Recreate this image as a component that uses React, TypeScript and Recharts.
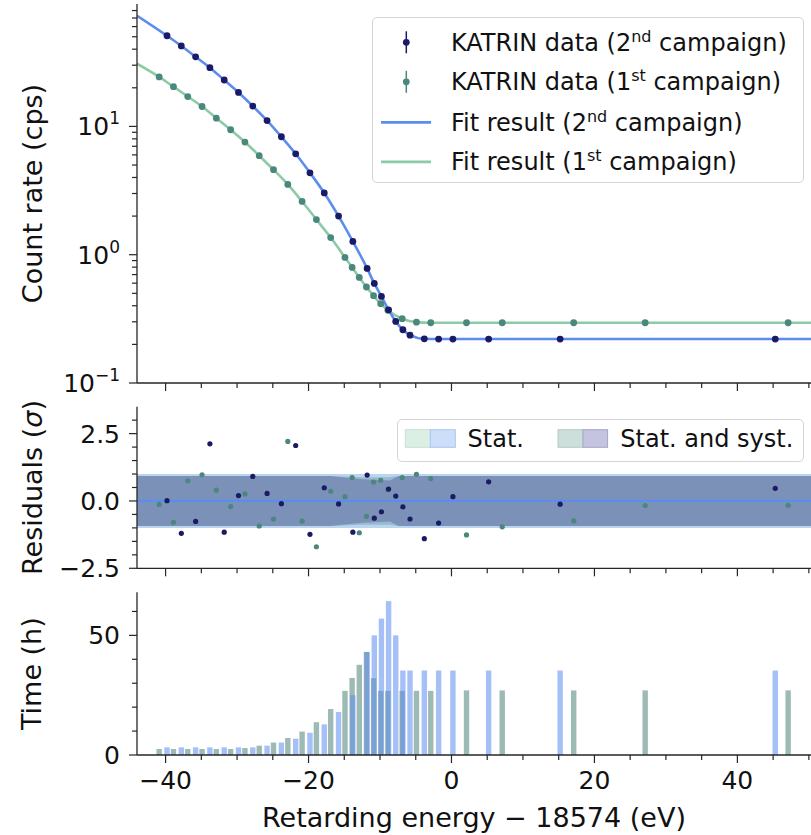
import React from 'react';
import {
  ComposedChart,
  Line,
  Scatter,
  Area,
  Bar,
  XAxis,
  YAxis,
  ReferenceLine,
} from 'recharts';

const FONT = '"DejaVu Sans", sans-serif';
const INK = '#262626';

// 2nd campaign
const e2 = [-39.8, -37.8, -35.8, -33.8, -31.8, -29.8, -27.8, -25.8, -23.8, -21.8, -19.8, -17.8, -15.8, -13.8, -11.8, -10.8, -9.8, -8.8, -7.8, -6.8, -5.8, -3.8, -1.8, 0.2, 5.2, 15.2, 45.3];
const rate2 = [50.9, 42.4, 34.9, 28.7, 23.0, 18.4, 14.4, 11.1, 8.31, 6.12, 4.35, 3.03, 2.0, 1.27, 0.782, 0.597, 0.473, 0.372, 0.302, 0.26, 0.236, 0.221, 0.22, 0.22, 0.22, 0.22, 0.22];
const resid2 = [0.01, -1.2, -0.76, 2.12, -1.16, 0.2, 0.91, 0.28, -0.1, 2.06, -1.24, 0.49, -0.11, -1.16, 0.96, -0.64, -0.4, 0.44, 0.18, -0.22, -0.67, -1.4, -0.82, 0.16, 0.71, -0.12, 0.47];
const time2 = [3.2, 3.2, 3.2, 3.2, 3.2, 3.2, 3.2, 3.9, 5.2, 6.8, 9.3, 12.8, 18, 25, 43, 50, 57, 64.3, 50, 35.3, 35.3, 35.3, 35.3, 35.3, 35.3, 35.3, 35.3];

// 1st campaign
const e1 = [-40.9, -38.9, -36.9, -34.9, -32.9, -30.9, -28.9, -26.9, -24.9, -22.9, -20.9, -18.9, -16.9, -14.9, -13.9, -12.9, -11.9, -10.9, -9.9, -8.9, -6.9, -4.9, -2.9, 2.1, 7.1, 17.1, 27.1, 47.1];
const rate1 = [24.3, 20.4, 17.1, 14.3, 11.6, 9.42, 7.55, 5.91, 4.6, 3.53, 2.6, 1.88, 1.36, 0.953, 0.796, 0.665, 0.56, 0.479, 0.415, 0.369, 0.317, 0.298, 0.295, 0.295, 0.295, 0.295, 0.295, 0.295];
const resid1 = [-0.13, -0.79, 0.75, 0.97, 0.4, -0.21, 0.26, -0.93, -0.67, 2.21, -0.75, -1.7, 0.36, 0.16, 0.87, -1.18, -0.57, 0.7, 0.77, 0.42, 0.87, 0.99, 0.83, -1.26, -0.96, -0.74, -0.17, -0.16];
const time1 = [2.5, 2.5, 2.5, 2.5, 2.5, 2.5, 2.9, 3.9, 5.2, 7.1, 9.8, 13.7, 19.2, 26.8, 32.2, 37.7, 43.1, 32.1, 26.8, 26.8, 26.8, 26.8, 26.8, 27, 27, 27, 27, 27];

// fit curve values at the plot edges
const edgeE = [-44, 50.3];
const fit2Edge = [73, 0.22];
const fit1Edge = [30.8, 0.295];

// residual bands (half widths in sigma)
const bandE = [-44, -17, -12.5, -8.6, -7.4, 50.3];
const statHalf = [1, 1, 1, 1, 1, 1];
const syst1Half = [0.93, 0.93, 0.88, 0.88, 0.93, 0.93];
const syst2Half = [0.93, 0.93, 0.81, 0.76, 0.93, 0.93];

// axes
const X_DOMAIN = [-44, 50.3];
const xTicks = [-40, -35, -30, -25, -20, -15, -10, -5, 0, 5, 10, 15, 20, 25, 30, 35, 40, 45, 50];
const logTicks = [0.1, 0.2, 0.3, 0.4, 0.5, 0.6, 0.7, 0.8, 0.9, 1, 2, 3, 4, 5, 6, 7, 8, 9, 10, 20, 30, 40, 50, 60, 70, 80];
const residTicks = [-2.5, -2, -1.5, -1, -0.5, 0, 0.5, 1, 1.5, 2, 2.5, 3];
const timeTicks = [0, 10, 20, 30, 40, 50, 60];

const C2_DOT = '#1a1a66';
const C1_DOT = '#4a877d';
const C2_LINE = '#5b8def';
const C1_LINE = '#8dcaa6';

const rateData2 = e2.map((e, i) => ({ e, v: rate2[i] }));
const rateData1 = e1.map((e, i) => ({ e, v: rate1[i] }));
const fitData2 = [{ e: edgeE[0], v: fit2Edge[0] }, ...rateData2, { e: edgeE[1], v: fit2Edge[1] }];
const fitData1 = [{ e: edgeE[0], v: fit1Edge[0] }, ...rateData1, { e: edgeE[1], v: fit1Edge[1] }];
const residData2 = e2.map((e, i) => ({ e, r: resid2[i] }));
const residData1 = e1.map((e, i) => ({ e, r: resid1[i] }));
const bandRows = bandE.map((e, i) => ({
  e,
  s: [-statHalf[i], statHalf[i]],
  g: [-syst1Half[i], syst1Half[i]],
  p: [-syst2Half[i], syst2Half[i]],
}));
const timeRows = [
  ...e1.map((e, i) => ({ e, t1: time1[i] })),
  ...e2.map((e, i) => ({ e, t2: time2[i] })),
].sort((a, b) => a.e - b.e);

const minus = (s: string) => s.replace('-', '\u2212');

const XTick = (p: any) => {
  const v = p.payload.value;
  const major = v % 20 === 0;
  return (
    <g>
      <line x1={p.x} x2={p.x} y1={p.y} y2={p.y + (major ? 8 : 5)} stroke={INK} strokeWidth={1.2} />
      {p.showLabel && major && (
        <text x={p.x} y={p.y + 34} textAnchor="middle" fontSize={25} fontFamily={FONT} fill="#111">
          {minus(String(v))}
        </text>
      )}
    </g>
  );
};

const YTick = (p: any) => {
  const v = p.payload.value;
  const major = p.isMajor(v);
  return (
    <g>
      <line x1={p.x - (major ? 8 : 5)} x2={p.x} y1={p.y} y2={p.y} stroke={INK} strokeWidth={1.2} />
      {major && (
        <text x={p.x - 17} y={p.y + 9} textAnchor="end" fontSize={25} fontFamily={FONT} fill="#111">
          {p.fmt(v)}
        </text>
      )}
    </g>
  );
};

const isDecade = (v: number) => Math.abs(Math.log10(v) - Math.round(Math.log10(v))) < 1e-6;
const fmtDecade = (v: number) => (
  <>
    <tspan>10</tspan>
    <tspan dy={-11} fontSize={17}>{minus(String(Math.round(Math.log10(v))))}</tspan>
  </>
);

const yTitle = (content: React.ReactNode) => (props: any) => {
  const vb = props.viewBox || {};
  const cy = (vb.y ?? 0) + (vb.height ?? 0) / 2;
  return (
    <text
      x={41.5}
      y={cy}
      transform={`rotate(-90, 41.5, ${cy})`}
      textAnchor="middle"
      fontSize={27}
      fontFamily={FONT}
      fill="#111"
    >
      {content}
    </text>
  );
};

const xTitle = (props: any) => {
  const vb = props.viewBox || {};
  const cx = (vb.x ?? 0) + (vb.width ?? 0) / 2;
  return (
    <text x={cx} y={(vb.y ?? 0) + 72} textAnchor="middle" fontSize={27} fontFamily={FONT} fill="#111">
      Retarding energy {'\u2212'} 18574 (eV)
    </text>
  );
};

const dot = (r: number, fill: string) => (p: any) => <circle cx={p.cx} cy={p.cy} r={r} fill={fill} />;

// bar centred on its energy with a fixed width, whatever band size the axis gives
const barShape = (fill: string, opacity: number) => (p: any) => {
  if (!p.height || p.height <= 0) return <g />;
  const cx = p.x + p.width / 2;
  return <rect x={cx - 2.7} y={p.y} width={5.4} height={p.height} fill={fill} fillOpacity={opacity} />;
};

const axisLine = { stroke: INK, strokeWidth: 1.3 };

const sup = (base: string, s: string, tail: string) => (
  <>
    {base}
    <tspan dy={-9} fontSize={16}>{s}</tspan>
    <tspan dy={9}>{tail}</tspan>
  </>
);

const TopLegend = () => {
  const rows = [38, 77.5, 118, 157.5].map((y) => y - 16.7);
  return (
    <div
      style={{
        position: 'absolute',
        left: 371.7,
        top: 16.7,
        width: 432.6,
        height: 166.6,
        boxSizing: 'border-box',
        border: '1px solid #d4d4d4',
        borderRadius: 5,
        background: 'rgba(255,255,255,0.85)',
      }}
    >
      <svg width={432} height={166} style={{ position: 'absolute', left: -1, top: -1 }}>
        <line x1={34.3} x2={34.3} y1={rows[0] + 4 - 11} y2={rows[0] + 4 + 11} stroke={C2_DOT} strokeWidth={1.5} />
        <circle cx={34.3} cy={rows[0] + 4} r={3.4} fill={C2_DOT} />
        <line x1={34.3} x2={34.3} y1={rows[1] + 4 - 11} y2={rows[1] + 4 + 11} stroke={C1_DOT} strokeWidth={1.5} />
        <circle cx={34.3} cy={rows[1] + 4} r={3.4} fill={C1_DOT} />
        <line x1={9} x2={59} y1={rows[2] + 4} y2={rows[2] + 4} stroke={C2_LINE} strokeWidth={2.8} />
        <line x1={9} x2={59} y1={rows[3] + 4} y2={rows[3] + 4} stroke={C1_LINE} strokeWidth={2.8} />
        <g fontSize={24} fontFamily={FONT} fill="#111">
          <text x={79} y={rows[0] + 12.5}>{sup('KATRIN data (2', 'nd', ' campaign)')}</text>
          <text x={79} y={rows[1] + 12.5}>{sup('KATRIN data (1', 'st', ' campaign)')}</text>
          <text x={79} y={rows[2] + 12.5}>{sup('Fit result (2', 'nd', ' campaign)')}</text>
          <text x={79} y={rows[3] + 12.5}>{sup('Fit result (1', 'st', ' campaign)')}</text>
        </g>
      </svg>
    </div>
  );
};

const MidLegend = () => (
  <div
    style={{
      position: 'absolute',
      left: 396.7,
      top: 419.3,
      width: 407.6,
      height: 42.7,
      boxSizing: 'border-box',
      border: '1px solid #d4d4d4',
      borderRadius: 5,
      background: 'rgba(255,255,255,0.85)',
    }}
  >
    <svg width={407} height={42} style={{ position: 'absolute', left: -1, top: -1 }}>
      <rect x={8.3} y={10.7} width={25} height={17.6} fill="#dcefe5" stroke="#c5e2d4" />
      <rect x={33.3} y={10.7} width={25} height={17.6} fill="#cddff8" stroke="#a9c6f2" />
      <rect x={161} y={10.7} width={25} height={17.6} fill="#cddfdb" stroke="#b3ccc7" />
      <rect x={186} y={10.7} width={24.6} height={17.6} fill="#c4c4de" stroke="#a3a3cb" />
      <g fontSize={24} fontFamily={FONT} fill="#111">
        <text x={70.6} y={28.3}>Stat.</text>
        <text x={223.3} y={28.3}>Stat. and syst.</text>
      </g>
    </svg>
  </div>
);

export default function App() {
  return (
    <div style={{ position: 'absolute', left: 0, top: 0, width: 811, height: 835, background: '#fff', overflow: 'hidden' }}>
      {/* spectrum */}
      <div style={{ position: 'absolute', left: 0, top: 0 }}>
        <ComposedChart width={811} height={400} margin={{ top: 4, right: 0, bottom: 0, left: 0 }}>
          <XAxis
            dataKey="e"
            type="number"
            domain={X_DOMAIN}
            allowDataOverflow
            ticks={xTicks}
            interval={0}
            height={17}
            tickSize={0}
            tickMargin={0}
            tickLine={false}
            axisLine={axisLine}
            tick={(p: any) => <XTick {...p} showLabel={false} />}
          />
          <XAxis xAxisId="top" orientation="top" type="number" domain={X_DOMAIN} height={0} tick={false} tickLine={false} axisLine={axisLine} />
          <YAxis
            type="number"
            scale="log"
            domain={[0.1, 90]}
            allowDataOverflow
            ticks={logTicks}
            interval={0}
            width={137}
            tickSize={0}
            tickMargin={0}
            tickLine={false}
            axisLine={axisLine}
            tick={(p: any) => <YTick {...p} isMajor={isDecade} fmt={fmtDecade} />}
            label={{ content: yTitle('Count rate (cps)') }}
          />
          <Line data={fitData1} dataKey="v" type="monotone" stroke={C1_LINE} strokeWidth={2.6} dot={false} activeDot={false} isAnimationActive={false} />
          <Line data={fitData2} dataKey="v" type="monotone" stroke={C2_LINE} strokeWidth={2.6} dot={false} activeDot={false} isAnimationActive={false} />
          <Scatter data={rateData1} dataKey="v" shape={dot(3.4, C1_DOT)} isAnimationActive={false} />
          <Scatter data={rateData2} dataKey="v" shape={dot(3.4, C2_DOT)} isAnimationActive={false} />
        </ComposedChart>
      </div>

      {/* residuals */}
      <div style={{ position: 'absolute', left: 0, top: 400 }}>
        <ComposedChart width={811} height={185} data={bandRows} margin={{ top: 6.7, right: 0, bottom: 0, left: 0 }}>
          <XAxis
            dataKey="e"
            type="number"
            domain={X_DOMAIN}
            allowDataOverflow
            ticks={xTicks}
            interval={0}
            height={16.7}
            tickSize={0}
            tickMargin={0}
            tickLine={false}
            axisLine={axisLine}
            tick={(p: any) => <XTick {...p} showLabel={false} />}
          />
          <XAxis xAxisId="top" orientation="top" type="number" domain={X_DOMAIN} height={0} tick={false} tickLine={false} axisLine={axisLine} />
          <YAxis
            type="number"
            domain={[-2.5, 3.5]}
            allowDataOverflow
            ticks={residTicks}
            interval={0}
            width={137}
            tickSize={0}
            tickMargin={0}
            tickLine={false}
            axisLine={axisLine}
            tick={(p: any) => (
              <YTick {...p} isMajor={(v: number) => Math.abs(v) % 2.5 < 1e-6} fmt={(v: number) => minus(v.toFixed(1))} />
            )}
            label={{
              content: yTitle(
                <>
                  Residuals (<tspan fontStyle="italic">{'\u03c3'}</tspan>)
                </>
              ),
            }}
          />
          <Area dataKey="s" type="linear" fill="#bfe3cf" fillOpacity={0.4} stroke="none" isAnimationActive={false} />
          <Area dataKey="s" type="linear" fill="#9dbff2" fillOpacity={0.6} stroke="none" isAnimationActive={false} />
          <Area dataKey="g" type="linear" fill="#5a8a88" fillOpacity={0.35} stroke="none" isAnimationActive={false} />
          <Area dataKey="p" type="linear" fill="#50559a" fillOpacity={0.4} stroke="none" isAnimationActive={false} />
          <ReferenceLine y={0} stroke={C2_LINE} strokeWidth={2.2} />
          <Scatter data={residData1} dataKey="r" shape={dot(2.6, C1_DOT)} isAnimationActive={false} />
          <Scatter data={residData2} dataKey="r" shape={dot(2.6, C2_DOT)} isAnimationActive={false} />
        </ComposedChart>
      </div>

      {/* measurement time */}
      <div style={{ position: 'absolute', left: 0, top: 585 }}>
        <ComposedChart width={811} height={250} data={timeRows} margin={{ top: 7.3, right: 0, bottom: 0, left: 0 }}>
          <XAxis
            xAxisId="a"
            dataKey="e"
            type="number"
            domain={X_DOMAIN}
            allowDataOverflow
            ticks={xTicks}
            interval={0}
            height={80}
            tickSize={0}
            tickMargin={0}
            tickLine={false}
            axisLine={axisLine}
            tick={(p: any) => <XTick {...p} showLabel />}
            label={{ content: xTitle }}
          />
          <XAxis xAxisId="b" dataKey="e" type="number" domain={X_DOMAIN} allowDataOverflow ticks={xTicks} hide />
          <XAxis xAxisId="top" orientation="top" type="number" domain={X_DOMAIN} height={0} tick={false} tickLine={false} axisLine={axisLine} />
          <YAxis
            type="number"
            domain={[0, 68]}
            allowDataOverflow
            ticks={timeTicks}
            interval={0}
            width={137}
            tickSize={0}
            tickMargin={0}
            tickLine={false}
            axisLine={axisLine}
            tick={(p: any) => <YTick {...p} isMajor={(v: number) => v % 50 === 0} fmt={(v: number) => String(v)} />}
            label={{ content: yTitle('Time (h)') }}
          />
          <Bar xAxisId="a" dataKey="t1" shape={barShape('#5d8c83', 0.6)} isAnimationActive={false} />
          <Bar xAxisId="b" dataKey="t2" shape={barShape('#5b8def', 0.55)} isAnimationActive={false} />
        </ComposedChart>
      </div>

      <TopLegend />
      <MidLegend />
    </div>
  );
}
